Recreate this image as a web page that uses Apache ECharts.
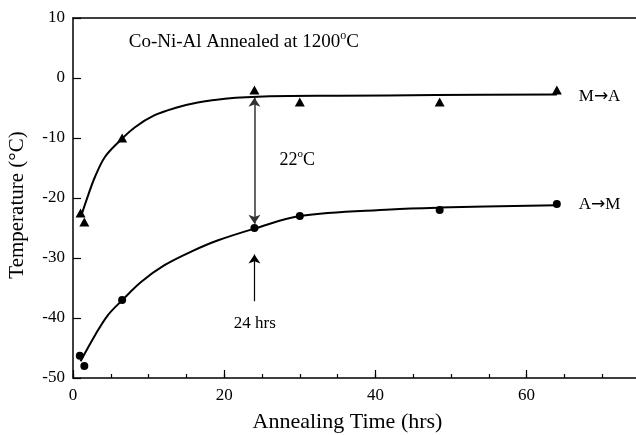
<!DOCTYPE html>
<html>
<head>
<meta charset="utf-8">
<script src="https://cdn.jsdelivr.net/npm/echarts@6/dist/echarts.min.js"></script>
<style>html,body{margin:0;padding:0;background:#fff}#c{width:636px;height:435px}</style>
</head>
<body>
<div id="c"></div>
<script>
// Measured points: M -> A (triangles)
const maTime = [1.0, 1.5, 6.5, 24, 30, 48.5, 64];
const maTemp = [-22.5, -24, -10, -2, -4, -4, -2];
// Measured points: A -> M (circles)
const amTime = [0.9, 1.5, 6.5, 24, 30, 48.5, 64];
const amTemp = [-46.3, -48, -37, -25, -23, -22, -21];
// Fitted curves
const maFitTime = [1.1, 2.0, 2.9, 4.2, 6.0, 8.2, 10.8, 13.5, 16.5, 20.1, 26, 35, 48, 64];
const maFitTemp = [-22.9, -19.55, -16.5, -13.2, -10.7, -8.2, -6.2, -5.0, -4.1, -3.45, -3.05, -2.95, -2.85, -2.75];
const amFitTime = [1.0, 2.9, 4.6, 6.5, 9.0, 12.1, 15.7, 19.2, 24, 30, 42, 48.4, 64];
const amFitTemp = [-47.2, -42.9, -39.55, -37.05, -34.0, -31.2, -28.9, -27.05, -25.1, -23.0, -21.9, -21.6, -21.2];
// Axis ticks
const xTicks = [0, 20, 40, 60];
const yTicks = [-50, -40, -30, -20, -10, 0, 10];
// Annotation arrows (data coords)
const gapArrow = [[24, -3.3], [24, -24.3]];
const hrsArrow = [[24, -37.2], [24, -29.4]];

const FONT = 'Liberation Serif';
const zip = (a, b) => a.map((v, i) => [v, b[i]]);

const chart = echarts.init(document.getElementById('c'), null, {renderer: 'canvas'});
function rich(fs) {
  return {
    n: {fontFamily: FONT, fontSize: fs, color: '#000'},
    s: {fontFamily: FONT, fontSize: Math.round(fs * 0.62), color: '#000', padding: [0, 0, Math.round(fs * 0.7), 0]},
    a: {fontFamily: 'DejaVu Sans', fontSize: 17, color: '#000'}
  };
}
function textPoint(x, y, text, fs, pos) {
  return {
    type: 'scatter', symbolSize: 0, silent: true, z: 5,
    data: [[x, y]],
    itemStyle: {opacity: 1},
    label: {show: true, position: pos || 'right', distance: 0, formatter: text, rich: rich(fs),
            fontFamily: FONT, fontSize: fs, color: '#000'}
  };
}

chart.setOption({
  animation: false,
  backgroundColor: '#fff',
  grid: {left: 73, right: -4, top: 18, bottom: 57, outerBoundsMode: 'none', containLabel: false},
  xAxis: [
    {
      type: 'value', min: 0, max: 75, interval: 20, position: 'bottom',
      name: 'Annealing Time (hrs)', nameLocation: 'middle', nameGap: 33,
      nameTextStyle: {fontFamily: FONT, fontSize: 22, color: '#000', padding: [0, 18, 0, 0]},
      axisLine: {show: true, onZero: false, lineStyle: {color: '#000', width: 1.5}},
      axisTick: {show: true, inside: true, length: 8, lineStyle: {color: '#000', width: 1.2}},
      axisLabel: {fontFamily: FONT, fontSize: 17, color: '#000', margin: 9, showMaxLabel: false,
        formatter: v => xTicks.includes(v) ? String(v) : ''},
      splitLine: {show: false}
    },
    {
      type: 'value', min: 0, max: 75, interval: 5, position: 'bottom',
      axisLine: {show: false, onZero: false},
      axisTick: {show: true, inside: true, length: 4, lineStyle: {color: '#000', width: 1.2}},
      axisLabel: {show: false}, splitLine: {show: false}
    },
    {
      type: 'value', min: 0, max: 75, position: 'top',
      axisLine: {show: true, onZero: false, lineStyle: {color: '#000', width: 1.5}},
      axisTick: {show: false}, axisLabel: {show: false}, splitLine: {show: false}
    }
  ],
  yAxis: {
    type: 'value', min: -50, max: 10, interval: 10,
    name: 'Temperature (°C)', nameLocation: 'middle', nameGap: 45,
    nameTextStyle: {fontFamily: FONT, fontSize: 21, color: '#000', padding: [0, 14, 0, 0]},
    axisLine: {show: true, onZero: false, lineStyle: {color: '#000', width: 1.5}},
    axisTick: {show: true, inside: true, length: 8, lineStyle: {color: '#000', width: 1.2}},
    axisLabel: {fontFamily: FONT, fontSize: 17, color: '#000', margin: 8,
      formatter: v => yTicks.includes(v) ? String(v) : ''},
    splitLine: {show: false}
  },
  series: [
    {type: 'line', data: zip(maFitTime, maFitTemp), smooth: 0.35, showSymbol: false,
     lineStyle: {color: '#000', width: 2}, silent: true},
    {type: 'line', data: zip(amFitTime, amFitTemp), smooth: 0.35, showSymbol: false,
     lineStyle: {color: '#000', width: 2}, silent: true},
    {type: 'scatter', data: zip(maTime, maTemp), symbol: 'triangle', symbolSize: [10, 9],
     itemStyle: {color: '#000', opacity: 1}, z: 4},
    {type: 'scatter', data: zip(amTime, amTemp), symbol: 'circle', symbolSize: 8,
     itemStyle: {color: '#000', opacity: 1}, z: 4},
    {type: 'lines', coordinateSystem: 'cartesian2d', polyline: false, silent: true,
     symbol: ['arrow', 'arrow'], symbolSize: 9,
     lineStyle: {color: '#333', width: 1.5, opacity: 1},
     data: [{coords: gapArrow}]},
    {type: 'lines', coordinateSystem: 'cartesian2d', polyline: false, silent: true,
     symbol: ['none', 'arrow'], symbolSize: 9,
     lineStyle: {color: '#000', width: 1.2, opacity: 1},
     data: [{coords: hrsArrow}]},
    textPoint(7.37, 6.0, '{n|Co-Ni-Al Annealed at 1200}{s|o}{n|C}', 19),
    textPoint(27.3, -13.7, '{n|22}{s|o}{n|C}', 18),
    textPoint(24.05, -41.0, '{n|24 hrs}', 17, 'inside'),
    textPoint(66.9, -3.1, '{n|M}{a|→}{n|A}', 17),
    textPoint(66.9, -21.05, '{n|A}{a|→}{n|M}', 17)
  ]
});
</script>
</body>
</html>
